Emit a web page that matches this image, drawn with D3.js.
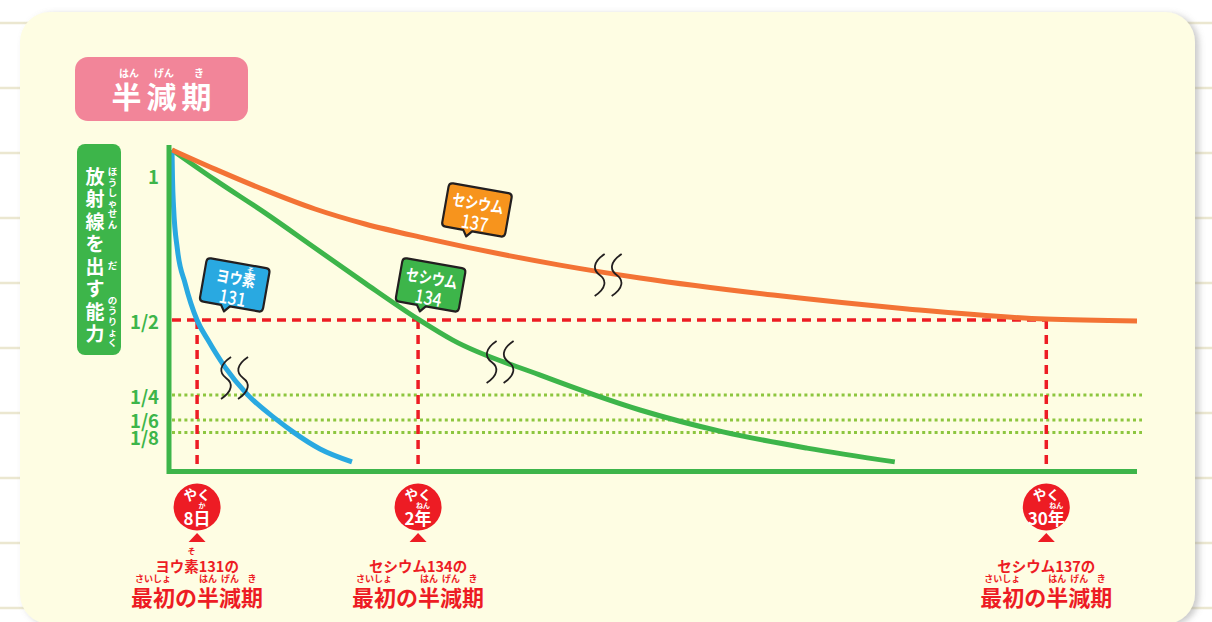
<!DOCTYPE html>
<html>
<head>
<meta charset="utf-8">
<script src="https://cdn.jsdelivr.net/npm/d3@7"></script>
<style>
  html, body { margin: 0; padding: 0; background: #fff; }
  svg { display: block; font-family: "Noto Sans CJK JP", "Noto Sans", sans-serif; }
</style>
</head>
<body>
<svg id="chart" width="1212" height="622"></svg>
<script>
// values: t = position along the (broken) time axis, 0..100
// v = share of the starting radioactivity
const iodine131 = [[0, 1.067], [0.05, 0.973], [0.16, 0.877], [0.57, 0.733], [1.35, 0.623], [2.59, 0.50],
  [3.73, 0.433], [5.49, 0.343], [7.77, 0.253], [10.88, 0.167], [12.54, 0.127], [15.34, 0.07], [18.65, 0.027]];
const cesium134 = [[0, 1.067], [4.46, 0.967], [9.64, 0.857], [14.82, 0.74], [20.0, 0.623], [25.5, 0.503],
  [29.1, 0.433], [38.1, 0.317], [48.5, 0.20], [57.1, 0.127], [65.8, 0.073], [74.9, 0.027]];
const cesium137 = [[0, 1.067], [4.46, 1.003], [9.64, 0.933], [14.82, 0.87], [20.0, 0.82], [26.2, 0.773],
  [40.2, 0.683], [48.5, 0.64], [62.3, 0.583], [76.2, 0.537], [90.5, 0.503], [100, 0.497]];

const yTicks = [1, 1 / 2, 1 / 4, 1 / 6, 1 / 8];
const yTickLabels = ['1', '1/2', '1/4', '1/6', '1/8'];
const guideLevels = [1 / 4, 1 / 6, 1 / 8];

const halfLifeT = [2.6, 25.5, 90.6];
const halfLifeLabels = ['8日', '2年', '30年'];
const halfLifeRuby = [[1, 1, 'か'], [1, 1, 'ねん'], [2, 1, 'ねん']];
const isotopeNames = ['ヨウ素131の', 'セシウム134の', 'セシウム137の'];
const isotopeNameRuby = [[2, 1, 'そ'], null, null];

// callout bubbles [t, v] of their centre, and break marks [t, v]
const calloutLines = [['ヨウ素', '131'], ['セシウム', '134'], ['セシウム', '137']];
const calloutPos = [[6.5, 0.617], [26.8, 0.617], [31.6, 0.867]];
const breakPos = [[6.48, 0.307], [34.0, 0.36], [45.2, 0.65]];

const GREEN = '#3db54a', ORANGE = '#f37335', BLUE = '#29a9e1', RED = '#ed1c24';
const DOT = '#8dc63f', PINK = '#f28599', CARD = '#fefde3', INK = '#231f20';
const bubbleFill = [BLUE, GREEN, '#f7941d'];

const svg = d3.select('#chart');

const defs = svg.append('defs');
defs.append('filter').attr('id', 'shadow')
    .attr('x', '-5%').attr('y', '-5%').attr('width', '110%').attr('height', '110%')
  .append('feDropShadow')
    .attr('dx', 4).attr('dy', 2).attr('stdDeviation', 3)
    .attr('flood-color', '#8a8a8a').attr('flood-opacity', 0.45);

// notebook lines behind the card
svg.selectAll('line.page')
  .data(d3.range(23, 622, 65))
  .join('line')
    .attr('x1', 0).attr('x2', 1212)
    .attr('y1', d => d).attr('y2', d => d)
    .attr('stroke', '#ebe7d0').attr('stroke-width', 2.5);

svg.append('rect')
    .attr('x', 20).attr('y', 12).attr('width', 1175).attr('height', 612)
    .attr('rx', 30).attr('fill', CARD)
    .attr('filter', 'url(#shadow)');

function addRuby(parent, textSel, start, count, str, cy, size, fill) {
  const node = textSel.node();
  const a = node.getExtentOfChar(start);
  const b = node.getExtentOfChar(start + count - 1);
  parent.append('text')
      .attr('x', (a.x + b.x + b.width) / 2).attr('y', cy)
      .attr('text-anchor', 'middle').attr('dominant-baseline', 'central')
      .attr('font-size', size).attr('font-weight', 700).attr('fill', fill)
      .text(str);
}

// title badge
const title = svg.append('g');
title.append('rect')
    .attr('x', 75).attr('y', 57).attr('width', 173).attr('height', 64)
    .attr('rx', 13).attr('fill', PINK);
const titleText = title.append('text')
    .attr('x', 164).attr('y', 95)
    .attr('text-anchor', 'middle').attr('dominant-baseline', 'central')
    .attr('font-size', 30).attr('font-weight', 700).attr('letter-spacing', 5)
    .attr('fill', '#fff').text('半減期');
addRuby(title, titleText, 0, 1, 'はん', 72, 10, '#fff');
addRuby(title, titleText, 1, 1, 'げん', 72, 10, '#fff');
addRuby(title, titleText, 2, 1, 'き', 72, 10, '#fff');

// vertical y label
const ylab = svg.append('g');
ylab.append('rect')
    .attr('x', 77).attr('y', 144).attr('width', 44).attr('height', 211)
    .attr('rx', 8).attr('fill', GREEN);
ylab.selectAll('text.main')
  .data(Array.from('放射線を出す能力'))
  .join('text')
    .attr('x', 95).attr('y', (d, i) => 175 + i * 22.5)
    .attr('text-anchor', 'middle').attr('dominant-baseline', 'central')
    .attr('font-size', 19).attr('font-weight', 700).attr('fill', '#fff')
    .text(d => d);
[['ほうしゃせん', 197.5], ['だ', 265], ['のうりょく', 321]].forEach(([s, c]) => {
  const chars = Array.from(s);
  const step = 10.6;
  ylab.selectAll(null)
    .data(chars)
    .join('text')
      .attr('x', 112.5).attr('y', (d, i) => c + (i - (chars.length - 1) / 2) * step)
      .attr('text-anchor', 'middle').attr('dominant-baseline', 'central')
      .attr('font-size', 9.5).attr('font-weight', 700).attr('fill', '#fff')
      .text(d => d);
});

const x = d3.scaleLinear().domain([0, 100]).range([172, 1137]);
const y = d3.scaleLinear().domain([0, 1]).range([470, 170]);

// dotted guides
svg.selectAll('line.guide')
  .data(guideLevels)
  .join('line')
    .attr('x1', x(0)).attr('x2', x(100) + 5)
    .attr('y1', d => y(d)).attr('y2', d => y(d))
    .attr('stroke', DOT).attr('stroke-width', 3).attr('stroke-dasharray', '3,3.2');

// half-life dashed lines
svg.append('line')
    .attr('x1', x(0)).attr('x2', x(d3.max(halfLifeT)))
    .attr('y1', y(0.5)).attr('y2', y(0.5))
    .attr('stroke', RED).attr('stroke-width', 3.5).attr('stroke-dasharray', '9,6');
svg.selectAll('line.hl')
  .data(halfLifeT)
  .join('line')
    .attr('x1', d => x(d)).attr('x2', d => x(d))
    .attr('y1', y(0.5)).attr('y2', y(0))
    .attr('stroke', RED).attr('stroke-width', 3.5).attr('stroke-dasharray', '9,6');

// decay curves
const line = d3.line()
    .x(d => x(d[0]))
    .y(d => y(d[1]))
    .curve(d3.curveMonotoneX);
[[cesium134, GREEN], [iodine131, BLUE], [cesium137, ORANGE]].forEach(([data, color]) => {
  svg.append('path')
      .datum(data)
      .attr('fill', 'none')
      .attr('stroke', color)
      .attr('stroke-width', 5)
      .attr('d', line);
});

// axes
svg.append('line')
    .attr('x1', x(0) - 5).attr('x2', x(100))
    .attr('y1', y(0) + 1.5).attr('y2', y(0) + 1.5)
    .attr('stroke', GREEN).attr('stroke-width', 5);
svg.append('line')
    .attr('x1', x(0) - 3).attr('x2', x(0) - 3)
    .attr('y1', y(1.083)).attr('y2', y(0) + 4)
    .attr('stroke', GREEN).attr('stroke-width', 5);

const tickNudge = [5, 0, 0, -1, 4];
const yAxis = svg.append('g')
    .attr('transform', 'translate(159,0)')
    .call(d3.axisLeft(y).tickValues(yTicks).tickFormat((d, i) => yTickLabels[i]).tickSize(0).tickPadding(0));
yAxis.select('.domain').remove();
yAxis.selectAll('text')
    .attr('dy', null)
    .attr('y', (d, i) => tickNudge[i])
    .attr('dominant-baseline', 'central')
    .attr('font-family', '"Noto Sans CJK JP", "Noto Sans", sans-serif')
    .attr('font-size', 18.5).attr('font-weight', 700)
    .attr('fill', GREEN);

// break marks
const squiggle = 'M5,-21 C-7,-13 -7,-5 0,0 C7,5 7,13 -5,21';
breakPos.forEach(([t, v]) => {
  const g = svg.append('g').attr('transform', `translate(${x(t)},${y(v)})`);
  [-8.5, 8.5].forEach(dx => {
    g.append('path')
        .attr('d', squiggle)
        .attr('transform', `translate(${dx},0)`)
        .attr('fill', 'none').attr('stroke', INK).attr('stroke-width', 1.8);
  });
});

// callout bubbles
const bubblePath = 'M-28,-22 H28 Q32,-22 32,-18 V18 Q32,22 28,22 H-1 L-6,28 L-10,22 H-28 Q-32,22 -32,18 V-18 Q-32,-22 -28,-22 Z';
calloutPos.forEach(([t, v], i) => {
  const g = svg.append('g').attr('transform', `translate(${x(t)},${y(v)}) rotate(10)`);
  g.append('path')
      .attr('d', bubblePath)
      .attr('fill', bubbleFill[i])
      .attr('stroke', INK).attr('stroke-width', 2.2).attr('stroke-linejoin', 'round');
  const first = calloutLines[i][0];
  const l1 = g.append('text')
      .attr('x', 0).attr('y', -7.5)
      .attr('text-anchor', 'middle').attr('dominant-baseline', 'central')
      .attr('font-size', 16.5).attr('font-weight', 700).attr('fill', '#fff')
      .attr('textLength', first.length * 13).attr('lengthAdjust', 'spacingAndGlyphs')
      .text(first);
  g.append('text')
      .attr('x', 0).attr('y', 11.5)
      .attr('text-anchor', 'middle').attr('dominant-baseline', 'central')
      .attr('font-size', 19).attr('font-weight', 500).attr('fill', '#fff')
      .attr('textLength', 27).attr('lengthAdjust', 'spacingAndGlyphs')
      .text(calloutLines[i][1]);
  if (i === 0) addRuby(g, l1, 2, 1, 'そ', -17.5, 7, '#fff');
});

// half-life markers below the axis
halfLifeT.forEach((t, i) => {
  const cx = x(t);
  const g = svg.append('g');
  g.append('circle').attr('cx', cx).attr('cy', 507).attr('r', 23.5).attr('fill', RED);
  g.append('text')
      .attr('x', cx).attr('y', 494)
      .attr('text-anchor', 'middle').attr('dominant-baseline', 'central')
      .attr('font-size', 13.5).attr('font-weight', 700).attr('fill', '#fff')
      .text('やく');
  const big = g.append('text')
      .attr('x', cx).attr('y', 517)
      .attr('text-anchor', 'middle').attr('dominant-baseline', 'central')
      .attr('font-size', 17).attr('font-weight', 700).attr('fill', '#fff')
      .text(halfLifeLabels[i]);
  const r = halfLifeRuby[i];
  addRuby(g, big, r[0], r[1], r[2], 504.5, 7, '#fff');
  g.append('path')
      .attr('d', `M${cx},533 L${cx + 8.5},542 L${cx - 8.5},542 Z`)
      .attr('fill', RED);

  const name = g.append('text')
      .attr('x', cx).attr('y', 565)
      .attr('text-anchor', 'middle').attr('dominant-baseline', 'central')
      .attr('font-size', 14.5).attr('font-weight', 700).attr('fill', RED)
      .text(isotopeNames[i]);
  const nr = isotopeNameRuby[i];
  if (nr) addRuby(g, name, nr[0], nr[1], nr[2], 550, 8, RED);

  const head = g.append('text')
      .attr('x', cx).attr('y', 596)
      .attr('text-anchor', 'middle').attr('dominant-baseline', 'central')
      .attr('font-size', 22).attr('font-weight', 700).attr('fill', RED)
      .text('最初の半減期');
  addRuby(g, head, 0, 2, 'さいしょ', 578, 9, RED);
  addRuby(g, head, 3, 1, 'はん', 578, 9, RED);
  addRuby(g, head, 4, 1, 'げん', 578, 9, RED);
  addRuby(g, head, 5, 1, 'き', 578, 9, RED);
});
</script>
</body>
</html>
